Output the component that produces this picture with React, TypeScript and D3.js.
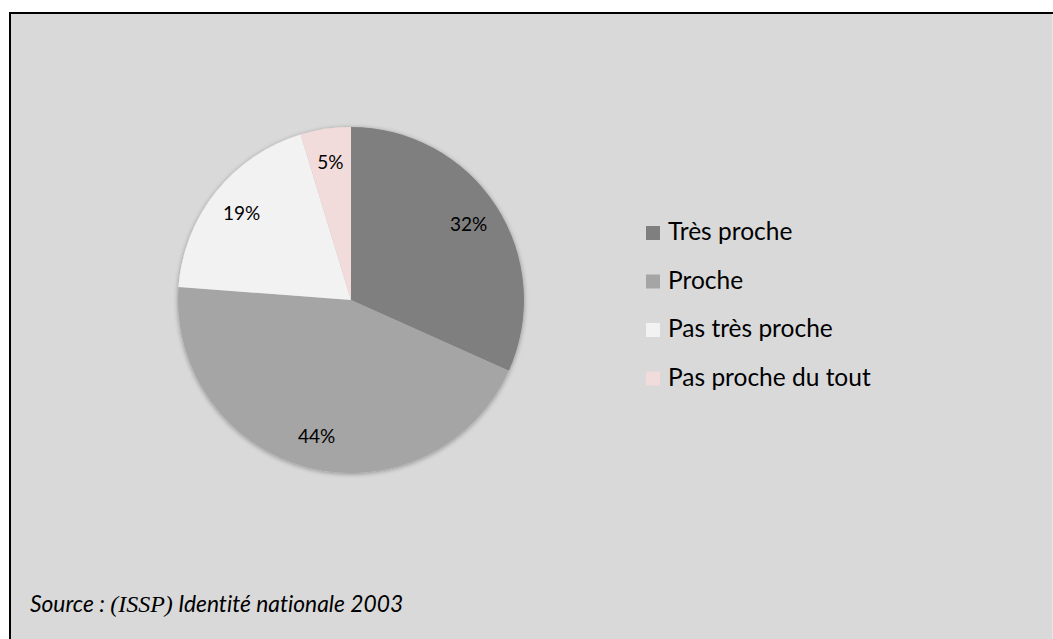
import React, { useEffect, useRef } from "react";
import * as d3 from "d3";

const categories = ["Très proche", "Proche", "Pas très proche", "Pas proche du tout"];
const values = [31.7, 44.5, 19.1, 4.7];
const labels = ["32%", "44%", "19%", "5%"];
const colors = ["#7f7f7f", "#a5a5a5", "#f2f2f2", "#f2dcdb"];
const sourceParts = [
  { text: "Source : ", serif: false },
  { text: "(ISSP)", serif: true },
  { text: " Identité nationale 2003", serif: false },
];

const W = 1053;
const H = 639;
const SANS = "Lato, 'Open Sans', sans-serif";

export default function App() {
  const ref = useRef<SVGSVGElement | null>(null);

  useEffect(() => {
    const svg = d3.select(ref.current);
    svg.selectAll("*").remove();

    const defs = svg.append("defs");
    const f = defs.append("filter").attr("id", "sh").attr("x", "-20%").attr("y", "-20%").attr("width", "140%").attr("height", "140%");
    f.append("feGaussianBlur").attr("in", "SourceAlpha").attr("stdDeviation", 2.5);
    f.append("feOffset").attr("dx", 0).attr("dy", 1).attr("result", "b");
    f.append("feComponentTransfer").append("feFuncA").attr("type", "linear").attr("slope", 0.35);
    const m = f.append("feMerge");
    m.append("feMergeNode");
    m.append("feMergeNode").attr("in", "SourceGraphic");

    svg.append("rect").attr("x", 0).attr("y", 0).attr("width", W).attr("height", H).attr("fill", "#ffffff");
    svg.append("rect").attr("x", 9).attr("y", 12).attr("width", W - 9).attr("height", H - 12).attr("fill", "#d9d9d9");
    svg.append("line").attr("x1", 10).attr("x2", W).attr("y1", 13).attr("y2", 13).attr("stroke", "#000").attr("stroke-width", 2);
    svg.append("line").attr("x1", 10).attr("x2", 10).attr("y1", 12).attr("y2", H).attr("stroke", "#000").attr("stroke-width", 2);
    svg.append("line").attr("x1", W - 0.5).attr("x2", W - 0.5).attr("y1", 14).attr("y2", H).attr("stroke", "#e6e6e6").attr("stroke-width", 1);

    const cx = 351, cy = 300, r = 173;
    const pie = d3.pie<number>().sort(null).value((d) => d);
    const arcs = pie(values);
    const arc = d3.arc<d3.PieArcDatum<number>>().innerRadius(0).outerRadius(r);
    const labelArc = d3.arc<d3.PieArcDatum<number>>().innerRadius(r * 0.81).outerRadius(r * 0.81);

    const g = svg.append("g").attr("transform", `translate(${cx},${cy})`);
    const pg = g.append("g").attr("filter", "url(#sh)");
    pg.selectAll("path").data(arcs).enter().append("path")
      .attr("d", (d) => arc(d) as string)
      .attr("fill", (_, i) => colors[i]);

    g.selectAll("text.lbl").data(arcs).enter().append("text")
      .attr("class", "lbl")
      .attr("x", (d) => labelArc.centroid(d)[0])
      .attr("y", (d) => labelArc.centroid(d)[1])
      .attr("text-anchor", "middle")
      .attr("dominant-baseline", "central")
      .attr("font-family", SANS)
      .attr("font-size", 19)
      .attr("fill", "#000")
      .text((_, i) => labels[i]);

    const legend = svg.append("g").attr("transform", "translate(646,240)");
    const rowH = 48.5;
    categories.forEach((c, i) => {
      const row = legend.append("g").attr("transform", `translate(0,${i * rowH})`);
      row.append("rect").attr("x", 0).attr("y", -14).attr("width", 14).attr("height", 14).attr("fill", colors[i]);
      row.append("text").attr("x", 22).attr("y", 0)
        .attr("font-family", SANS)
        .attr("font-size", 24.5)
        .attr("fill", "#000")
        .style("font-variant-ligatures", "none")
        .text(c);
    });

    const src = svg.append("text").attr("x", 30).attr("y", 612)
      .attr("font-style", "italic").attr("fill", "#000")
      .style("font-variant-ligatures", "none");
    sourceParts.forEach((p) => {
      src.append("tspan")
        .attr("font-family", p.serif ? "'Liberation Serif', 'DejaVu Serif', serif" : SANS)
        .attr("font-size", p.serif ? 24 : 22.8)
        .text(p.text);
    });
  }, []);

  return (
    <svg
      ref={ref}
      width={W}
      height={H}
      style={{ position: "absolute", left: 0, top: 0, display: "block", fontVariantLigatures: "none" }}
    />
  );
}
